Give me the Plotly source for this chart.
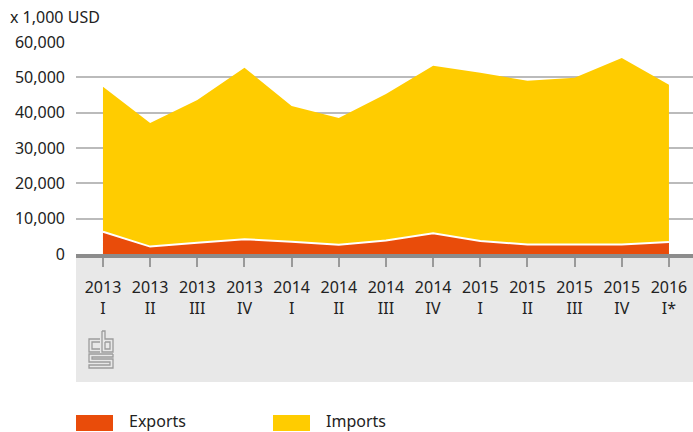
import plotly.graph_objects as go

categories = ["2013<br>I", "2013<br>II", "2013<br>III", "2013<br>IV",
              "2014<br>I", "2014<br>II", "2014<br>III", "2014<br>IV",
              "2015<br>I", "2015<br>II", "2015<br>III", "2015<br>IV",
              "2016<br>I*"]
imports = [47300, 37100, 43600, 52700, 41900, 38500, 45300, 53300,
           51300, 49000, 49900, 55500, 47900]
exports = [6300, 2100, 3200, 4200, 3500, 2600, 3800, 5900,
           3700, 2700, 2700, 2700, 3400]
y_ticks = [0, 10000, 20000, 30000, 40000, 50000, 60000]
y_ticktext = ["0", "10,000", "20,000", "30,000", "40,000", "50,000", "60,000"]

W, H = 693, 432
L, R, T, B = 76, 693, 42, 254
FONT = "Noto Sans"
TXT = "#222222"


def px(x):
    return (x - L) / (R - L)


def py(y):
    return (B - y) / (B - T)


xs = list(range(len(categories)))

fig = go.Figure()
fig.add_trace(go.Scatter(x=xs, y=imports, mode="lines", fill="tozeroy",
                         fillcolor="#FFCC00", line=dict(width=0, color="#FFCC00"),
                         name="Imports", showlegend=False))
fig.add_trace(go.Scatter(x=xs, y=exports, mode="lines", fill="tozeroy",
                         fillcolor="#E94C0A", line=dict(width=2, color="#FFFFFF"),
                         name="Exports", showlegend=False))

shapes = []
# grey band below axis
shapes.append(dict(type="rect", xref="paper", yref="paper", x0=0, x1=1,
                   y0=py(254), y1=py(382), fillcolor="#E8E8E8", line=dict(width=0),
                   layer="below"))
# legend swatches
shapes.append(dict(type="rect", xref="paper", yref="paper", x0=px(76), x1=px(113),
                   y0=py(415), y1=py(431), fillcolor="#E94C0A", line=dict(width=0)))
shapes.append(dict(type="rect", xref="paper", yref="paper", x0=px(273), x1=px(310),
                   y0=py(415), y1=py(431), fillcolor="#FFCC00", line=dict(width=0)))


# CBS logo (approximate, line drawing)
def path(points):
    s = "M {} {}".format(px(points[0][0]), py(points[0][1]))
    for p in points[1:]:
        s += " L {} {}".format(px(p[0]), py(p[1]))
    return s


logo_lines = [
    # c
    [(100, 339), (89, 339), (89, 352), (100, 352)],
    [(100, 342), (92, 342), (92, 349), (100, 349)],
    # b
    [(102, 331), (102, 352), (113, 352), (113, 339), (105, 339), (105, 331), (102, 331)],
    [(105, 342), (110, 342), (110, 349), (105, 349), (105, 342)],
    # S
    [(113, 354), (89, 354), (89, 362), (110, 362), (110, 365), (89, 365), (89, 368),
     (113, 368), (113, 359), (92, 359), (92, 357), (113, 357), (113, 354)],
]
for pts in logo_lines:
    shapes.append(dict(type="path", xref="paper", yref="paper", path=path(pts),
                       line=dict(color="#9C9C9C", width=1.3)))

annotations = [
    dict(text="x 1,000 USD", xref="paper", yref="paper", x=px(8), y=py(17),
         xanchor="left", yanchor="middle", showarrow=False,
         font=dict(family=FONT, size=16, color=TXT)),
    dict(text="Exports", xref="paper", yref="paper", x=px(127), y=py(421),
         xanchor="left", yanchor="middle", showarrow=False,
         font=dict(family=FONT, size=16, color=TXT)),
    dict(text="Imports", xref="paper", yref="paper", x=px(324), y=py(421),
         xanchor="left", yanchor="middle", showarrow=False,
         font=dict(family=FONT, size=16, color=TXT)),
]

fig.update_layout(
    width=W, height=H,
    margin=dict(l=L, r=W - R, t=T, b=H - B, pad=0),
    paper_bgcolor="white", plot_bgcolor="white",
    showlegend=False,
    shapes=shapes, annotations=annotations,
    font=dict(family=FONT, size=16, color=TXT),
    xaxis=dict(range=[-0.572, 12.51], tickmode="array", tickvals=xs,
               ticktext=categories, showgrid=False, zeroline=False,
               showline=True, linecolor="#8C8C8C", linewidth=4,
               ticks="outside", ticklen=9, tickwidth=1.5, tickcolor="#9A9A9A",
               ticklabelstandoff=7,
               tickfont=dict(family=FONT, size=16, color=TXT), fixedrange=True),
    yaxis=dict(range=[0, 60000], tickmode="array", tickvals=y_ticks,
               ticktext=y_ticktext, showgrid=True, gridcolor="#BBBBBB", gridwidth=2,
               zeroline=False, showline=False, ticks="",
               ticklabelstandoff=10,
               tickfont=dict(family=FONT, size=16, color=TXT), fixedrange=True),
)

fig.write_html("out.html", config={"displayModeBar": False},
               post_script="document.body.style.margin='0';document.body.style.overflow='hidden';")
